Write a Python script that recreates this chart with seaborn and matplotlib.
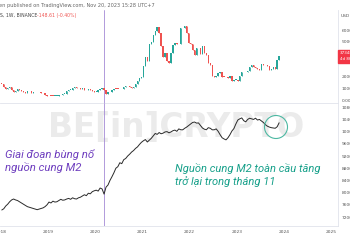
import numpy as np
import pandas as pd
import matplotlib
matplotlib.use("Agg")
import matplotlib.pyplot as plt
import seaborn as sns
from matplotlib.patches import Ellipse, Rectangle

# ---------------- data ----------------
# BTC/USDT semi-monthly closes, Jan 2018 .. Nov 2023
btc_close = [
    13600, 11500, 9100, 10000, 10900, 8200, 6900, 8000, 9200, 8500, 7500, 6500,
    6350, 7400, 7600, 6300, 7200, 6500, 6600, 6550, 6350, 5600, 4200, 3250,
    3800, 3600, 3450, 3600, 3800, 3900, 4100, 5100, 5350, 8000, 8550, 8800,
    10600, 10800, 10100, 10300, 9700, 10300, 8300, 8300, 9200, 8500, 7400, 7100,
    7200, 8800, 9400, 9900, 8600, 5400, 6600, 6900, 8800, 9700, 9500, 9400,
    9200, 9200, 11300, 11800, 11900, 10800, 10600, 11500, 13800, 16000, 19200, 19400,
    29400, 36800, 33500, 48000, 49600, 56000, 59000, 63000, 57800, 46500, 36700, 40200,
    33500, 31800, 39900, 47000, 48800, 47600, 48200, 61500, 61300, 63600, 57200, 48900,
    47700, 43100, 38700, 44500, 44400, 39300, 46300, 40500, 38500, 31300, 29800, 20400,
    19300, 20800, 23300, 24300, 20100, 19700, 19300, 19200, 20500, 16600, 17000, 17400,
    16600, 20900, 23700, 24300, 23600, 24800, 28500, 30300, 28100, 27200, 26800, 25600,
    30600, 30300, 29700, 29200, 25900, 26600, 27900, 27000, 34700, 37300,
]
btc_first_open = 13900

# Global M2 (semi-monthly), Jan 2018 .. Nov 2023
m2_values = [
    7430, 7470, 7560, 7620, 7700, 7760, 7790, 7760, 7740, 7700, 7660, 7620,
    7580, 7540, 7520, 7500, 7480, 7460, 7440, 7460, 7480, 7500, 7540, 7600,
    7690, 7660, 7720, 7690, 7700, 7740, 7780, 7750, 7760, 7790, 7810, 7780,
    7830, 7800, 7790, 7830, 7850, 7890, 7930, 7900, 7980, 7960, 8030, 8060,
    8080, 8050, 8150, 8120, 7950, 8180, 8250, 8400, 8520, 8650, 8800, 8850,
    8980, 8950, 9080, 9120, 9200, 9260, 9330, 9380, 9450, 9500, 9580, 9650,
    9700, 9740, 9660, 9720, 9780, 9860, 9940, 9910, 9970, 9930, 9950, 9990,
    10000, 9960, 9990, 10030, 10050, 10010, 10090, 10060, 10060, 10110, 10150, 10200,
    10250, 10300, 10315, 10280, 10285, 10200, 10120, 10080, 10060, 10130, 10110, 10060,
    10060, 10090, 10010, 9900, 9800, 9760, 9730, 9800, 9900, 10020, 10100, 10250,
    10380, 10420, 10450, 10360, 10320, 10400, 10440, 10420, 10400, 10440, 10380, 10400,
    10350, 10300, 10230, 10180, 10150, 10130, 10120, 10110, 10160, 10290,
]

year_ticks = [2018, 2019, 2020, 2021, 2022, 2023, 2024, 2025]
btc_ticks = [0, 10000, 20000, 50000, 60000]
btc_tick_labels = ["0.00", "10000", "20000", "50000", "60000"]
m2_ticks = [7200, 7600, 8000, 8400, 8800, 9200, 9600, 10000, 10400, 10800]
event_date = 2020.19
last_price_label = "37348"

purple_text = ["Giai đoạn bùng nổ", "nguồn cung M2"]
teal_text = ["Nguồn cung M2 toàn cầu tăng", "trở lại trong tháng 11"]
header_1 = "en published on TradingView.com, Nov 20, 2023 15:28 UTC+7"
header_2a = "S, 1W, BINANCE"
header_2b = "-148.61 (-0.40%)"

# ---------------- figure ----------------
sns.set_style("white")
plt.rcParams["font.family"] = ["DejaVu Sans"]

W, H = 350, 250
fig = plt.figure(figsize=(W / 100, H / 100), dpi=100)
fig.patch.set_facecolor("white")

def fy(py):
    return 1 - py / H

XL = (2017.983, 2025.143)
ax_top = fig.add_axes([0, fy(103), 338 / W, (103 - 10) / H])
ax_bot = fig.add_axes([0, fy(226), 338 / W, (226 - 103) / H])
for ax in (ax_top, ax_bot):
    ax.set_facecolor("none")
    ax.set_xlim(*XL)
    for s in ax.spines.values():
        s.set_visible(False)
    ax.spines["right"].set_visible(True)
    ax.spines["right"].set_color("#e0e3eb")
    ax.spines["right"].set_linewidth(0.6)
    ax.spines["bottom"].set_visible(True)
    ax.spines["bottom"].set_color("#e0e3eb")
    ax.spines["bottom"].set_linewidth(0.6)
    ax.yaxis.tick_right()
    ax.tick_params(axis="y", length=0, pad=2.5, labelsize=3.2, labelcolor="#555555")
    ax.axvline(event_date, color="#a58bd6", lw=0.6, zorder=1)

# ---- candles ----
closes = np.array(btc_close, dtype=float)
opens = np.concatenate([[btc_first_open], closes[:-1]])
t_btc = 2018 + (np.arange(len(closes)) + 0.5) / 24
up = closes >= opens
cols = np.where(up, "#26a69a", "#ef5350")
lo = np.minimum(opens, closes)
hi = np.maximum(opens, closes)
ax_top.vlines(t_btc, lo, hi, colors=cols, lw=0.6, zorder=2)
ax_top.bar(t_btc, np.maximum(hi - lo, 600), bottom=lo, width=0.7 / 24,
           color=cols, linewidth=0, zorder=3)
ax_top.set_ylim(-2571, 77143)
ax_top.set_yticks(btc_ticks)
ax_top.set_yticklabels(btc_tick_labels)
ax_top.set_xticks([])

# ---- M2 line ----
df_m2 = pd.DataFrame({"t": 2018 + np.arange(len(m2_values)) / 24 + 1 / 48,
                      "m2": m2_values})
sns.lineplot(data=df_m2, x="t", y="m2", ax=ax_bot, color="#2a2a2a",
             linewidth=0.7, zorder=3)
ax_bot.set_ylim(6905, 10939)
ax_bot.set_yticks(m2_ticks)
ax_bot.set_yticklabels([str(v) for v in m2_ticks])
ax_bot.set_xticks(year_ticks)
ax_bot.set_xticklabels([str(y) for y in year_ticks])
ax_bot.tick_params(axis="x", length=0, pad=3, labelsize=3.2, labelcolor="#555555")
ax_bot.set_xlabel("")
ax_bot.set_ylabel("")
ax_bot.set_xlim(*XL)

# watermark
ax_bot.text(0.52, 0.80, "BE[in]CRYPTO", transform=ax_bot.transAxes,
            ha="center", va="center", fontsize=23.5, fontweight="bold",
            color="#ebebeb", zorder=0)

# ---- overlays in figure pixels ----
def ftext(x, y, s, **kw):
    fig.text(x / W, fy(y), s, **kw)

ftext(-1, 5, header_1, fontsize=3.6, color="#666666", va="center")
ftext(0, 15, header_2a, fontsize=3.3, color="#444444", va="center")
ftext(37, 15, header_2b, fontsize=3.3, color="#ef5350", va="center")
ftext(341, 16, "USD", fontsize=3.2, color="#555555", va="center")

# last-price tag
fig.patches.append(Rectangle((338 / W, fy(63)), 14 / W, 13 / H,
                             transform=fig.transFigure, color="#f23645", zorder=5))
ftext(340, 53.5, last_price_label, fontsize=3.0, color="white", va="center", zorder=6)
ftext(340, 59.5, "4d 8h", fontsize=3.0, color="white", va="center", zorder=6)

# annotations
ann_font = ["Liberation Sans Narrow", "Roboto", "DejaVu Sans"]
ftext(5, 158, purple_text[0], fontsize=8.2, color="#6f3fbf", style="italic",
      family=ann_font, va="baseline")
ftext(5, 171, purple_text[1], fontsize=8.2, color="#6f3fbf", style="italic",
      family=ann_font, va="baseline")
ftext(175, 172, teal_text[0], fontsize=8.0, color="#17a08a", style="italic",
      family=ann_font, va="baseline")
ftext(175, 185, teal_text[1], fontsize=8.0, color="#17a08a", style="italic",
      family=ann_font, va="baseline")

fig.patches.append(Ellipse((276 / W, fy(127)), 23 / W, 23 / H,
                           transform=fig.transFigure, fill=False,
                           edgecolor="#4db8a2", lw=0.8, zorder=6))

fig.savefig("out.png", dpi=100)
